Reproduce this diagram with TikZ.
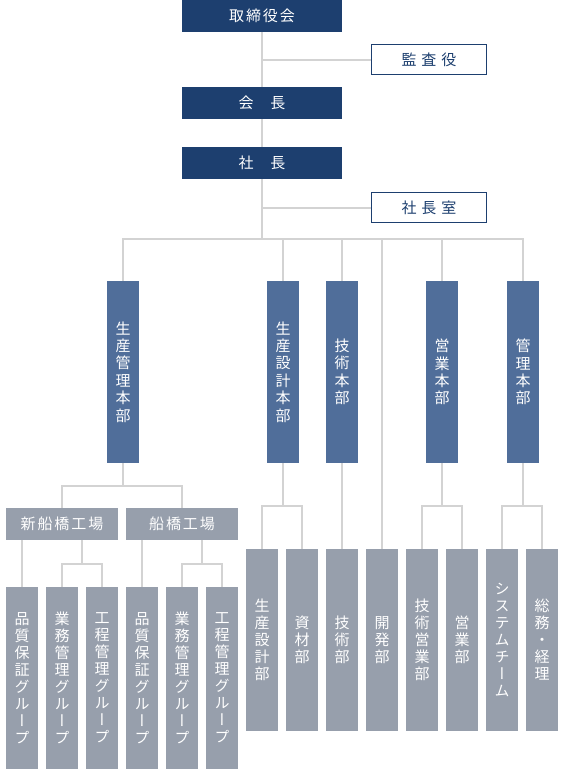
\documentclass[tikz,border=0pt]{standalone}
\usepackage{fontspec}
\setmainfont{Noto Sans CJK JP}
\newfontfamily\jph[LetterSpace=13]{Noto Sans CJK JP}
\newfontfamily\jpv[RawFeature=+vert]{Noto Sans CJK JP}
\usetikzlibrary{positioning,calc}
\definecolor{orgnavy}{HTML}{1D3F6F}
\definecolor{orgblue}{HTML}{506E9A}
\definecolor{orggray}{HTML}{979FAC}
\definecolor{orgline}{HTML}{D3D3D3}

\begin{document}
\begin{tikzpicture}[x=1pt,y=-1pt,node distance=8pt,
    top/.style={fill=orgnavy,text=white,minimum width=160pt,minimum height=32pt,
    inner sep=0pt,outer sep=0pt,font=\jph\fontsize{15}{17}\selectfont},
    sub/.style={draw=orgnavy,line width=1.2pt,fill=white,text=orgnavy,minimum width=115pt,
    minimum height=30pt,inner sep=0pt,font=\fontsize{15}{17}\selectfont},
    hq/.style={fill=orgblue,text=white,minimum width=32pt,minimum height=182pt,inner sep=0pt,
    outer sep=0pt,align=center,font=\jpv\fontsize{15}{17.4}\selectfont},
    fac/.style={fill=orggray,text=white,minimum width=112pt,minimum height=32pt,
    inner sep=0pt,outer sep=0pt,font=\jph\fontsize{15}{17}\selectfont},
    grp/.style={fill=orggray,text=white,minimum width=32pt,minimum height=182pt,inner sep=0pt,
    outer sep=0pt,align=center,font=\jpv\fontsize{15}{17}\selectfont},
    ln/.style={draw=orgline,line width=2pt}]
    \useasboundingbox (0,0) rectangle (564,769);
    % top of the chart
    \node[top] (board) at (262,16) {取締役会};
    \node[top] (chair) at (262,103) {会\hspace{17pt}長};
    \node[top] (pres) at (262,163) {社\hspace{17pt}長};
    \node[sub] (audit) at (429,59.5) {監\hspace{5pt}査\hspace{5pt}役};
    \node[sub] (office) at (429,207.5) {社\hspace{5pt}長\hspace{5pt}室};
    % divisions
    \node[hq] (hqprod) at (123,372) {生\\産\\管\\理\\本\\部};
    \node[hq] (hqdes) at (283,372) {生\\産\\設\\計\\本\\部};
    \node[hq] (hqtech) at (342,372) {技\\術\\本\\部};
    \node[hq] (hqsales) at (442,372) {営\\業\\本\\部};
    \node[hq] (hqadm) at (523,372) {管\\理\\本\\部};
    % factories
    \node[fac] (facns) at (62,524) {新船橋工場};
    \node[fac] (facfb) at (182,524) {船橋工場};
    \node[grp] (qa1) at (22,678) {品\\質\\保\\証\\グ\\ル\\ー\\プ};
    \node[grp,right=of qa1] (bm1) {業\\務\\管\\理\\グ\\ル\\ー\\プ};
    \node[grp,right=of bm1] (pm1) {工\\程\\管\\理\\グ\\ル\\ー\\プ};
    \node[grp,right=of pm1] (qa2) {品\\質\\保\\証\\グ\\ル\\ー\\プ};
    \node[grp,right=of qa2] (bm2) {業\\務\\管\\理\\グ\\ル\\ー\\プ};
    \node[grp,right=of bm2] (pm2) {工\\程\\管\\理\\グ\\ル\\ー\\プ};
    % departments
    \node[grp] (dsgn) at (262,640) {生\\産\\設\\計\\部};
    \node[grp,right=of dsgn] (mat) {資\\材\\部};
    \node[grp,right=of mat] (tech) {技\\術\\部};
    \node[grp,right=of tech] (dev) {開\\発\\部};
    \node[grp,right=of dev] (tsales) {技\\術\\営\\業\\部};
    \node[grp,right=of tsales] (sales) {営\\業\\部};
    \node[grp,right=of sales] (sys) {シ\\ス\\テ\\ム\\チ\\ー\\ム};
    \node[grp,right=of sys] (gen) {総\\務\\・\\経\\理};
    % lines
    \coordinate (bus) at ($(pres.south)+(0,60)$);
    \draw[ln] (board) -- (chair); \draw[ln] (chair) -- (pres); \draw[ln] (pres) -- (bus);
    \draw[ln] (audit) -- (audit -| board);
    \draw[ln] (office) -- (office -| pres);
    \draw[ln] (hqprod) |- (bus) -| (hqadm);
    \foreach \n in {hqdes,hqtech,hqsales,dev} \draw[ln] (\n) -- (bus -| \n);
    \coordinate (fk1) at ($(hqprod.south)!.5!(hqprod.south |- facns.north)$);
    \draw[ln] (hqprod) -- (fk1); \draw[ln] (facns) |- (fk1) -| (facfb);
    \draw[ln] (qa1) -- (qa1 |- facns.south);
    \draw[ln] (qa2) -- (qa2 |- facfb.south);
    \coordinate (fk2) at ($(bm1.north)!.5!(pm1.north |- facns.south)$);
    \draw[ln] (bm1) |- (fk2) -| (pm1); \draw[ln] (fk2) -- (fk2 |- facns.south);
    \coordinate (fk3) at ($(bm2.north)!.5!(pm2.north |- facfb.south)$);
    \draw[ln] (bm2) |- (fk3) -| (pm2); \draw[ln] (fk3) -- (fk3 |- facfb.south);
    \coordinate (fk4) at ($(hqdes.south)!.5!(hqdes.south |- dsgn.north)$);
    \draw[ln] (hqdes) -- (fk4); \draw[ln] (dsgn) |- (fk4) -| (mat);
    \draw[ln] (hqtech) -- (tech);
    \coordinate (fk5) at ($(hqsales.south)!.5!(hqsales.south |- tsales.north)$);
    \draw[ln] (hqsales) -- (fk5); \draw[ln] (tsales) |- (fk5) -| (sales);
    \coordinate (fk6) at ($(hqadm.south)!.5!(hqadm.south |- sys.north)$);
    \draw[ln] (hqadm) -- (fk6); \draw[ln] (sys) |- (fk6) -| (gen);
\end{tikzpicture}
\end{document}
